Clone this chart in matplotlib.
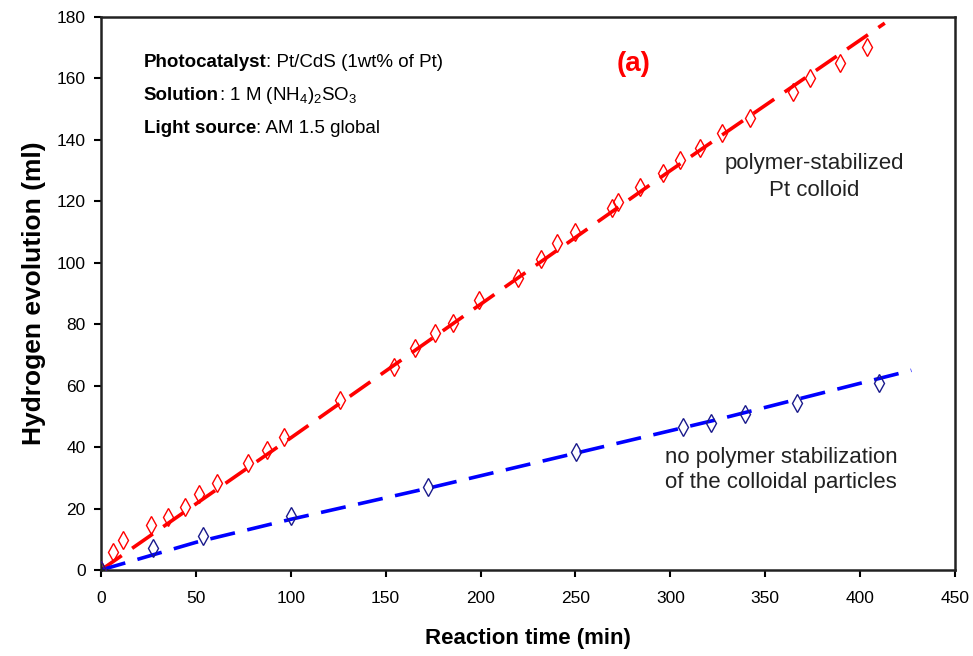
import matplotlib
matplotlib.use('Agg')
import matplotlib.pyplot as plt

plt.rcParams['font.family'] = ['Liberation Sans', 'DejaVu Sans']
plt.rcParams['mathtext.fontset'] = 'custom'
plt.rcParams['mathtext.rm'] = 'Liberation Sans'
plt.rcParams['mathtext.it'] = 'Liberation Sans'

# --- measured hydrogen evolution (ml) vs reaction time (min) ---
stab_time = [0, 6.5, 11.4, 26.2, 35.5, 44.3, 51.8, 61.0, 77.3, 87.3, 96.6,
             125.8, 154.4, 165.4, 176.0, 185.6, 199.3, 219.9, 232.0, 240.4,
             249.7, 269.2, 272.4, 284.0, 296.1, 305.0, 315.6, 327.2, 341.9,
             364.6, 373.6, 389.4, 403.6]
stab_h2 = [0, 6.0, 9.8, 14.6, 17.4, 20.6, 24.6, 28.2, 34.9, 39.1, 43.2,
           55.3, 66.2, 72.2, 77.0, 80.5, 87.9, 95.0, 101.2, 106.4,
           110.0, 117.8, 119.8, 124.7, 129.2, 133.5, 137.4, 142.3, 147.1,
           155.6, 160.2, 165.0, 170.2]

bare_time = [0, 27.6, 53.6, 100.0, 172.5, 250.3, 306.8, 321.3, 339.5, 366.5, 410.0]
bare_h2 = [0, 7.1, 11.1, 17.6, 27.1, 38.4, 46.4, 47.9, 50.8, 54.5, 61.0]

# trend lines drawn through each series
stab_fit_time = [0, 100, 200, 300, 413]
stab_fit_h2 = [0, 43.0, 86.5, 130.0, 178.0]
bare_fit_time = [0, 50, 100, 175, 250, 325, 427]
bare_fit_h2 = [0, 9.0, 16.5, 27.0, 38.0, 49.0, 65.0]

fig = plt.figure(figsize=(9.73, 6.56), dpi=100)
ax = fig.add_axes([0.1038, 0.1311, 0.8777, 0.8430])

dash = (0, (7, 3.5))
ax.plot(stab_fit_time, stab_fit_h2, color='#ff0000', lw=2.6, linestyle=dash, zorder=2)
ax.plot(bare_fit_time, bare_fit_h2, color='#0000ff', lw=2.6, linestyle=dash, zorder=2)
ax.plot(stab_time, stab_h2, linestyle='none', marker='d', ms=9, mfc='none',
        mec='#ff0000', mew=1.0, zorder=3)
ax.plot(bare_time, bare_h2, linestyle='none', marker='d', ms=9, mfc='none',
        mec='#1a1a8c', mew=1.0, zorder=3)

ax.set_xlim(0, 450)
ax.set_ylim(0, 180)
ax.set_xticks(range(0, 451, 50))
ax.set_yticks(range(0, 181, 20))
ax.tick_params(direction='out', length=5, width=1.5, labelsize=12.5)
ax.tick_params(axis='x', pad=10)
ax.tick_params(axis='y', pad=6)
for s in ax.spines.values():
    s.set_linewidth(1.8)
    s.set_color('#222222')

ax.set_xlabel('Reaction time (min)', fontsize=16, fontweight='bold', labelpad=16)
ax.set_ylabel('Hydrogen evolution (ml)', fontsize=19, fontweight='bold', labelpad=8)

# conditions block: bold key followed by normal text
conds = [('Photocatalyst', ': Pt/CdS (1wt% of Pt)'),
         ('Solution', ': 1 M (NH$_4$)$_2$SO$_3$'),
         ('Light source', ': AM 1.5 global')]
for i, (key, val) in enumerate(conds):
    t = ax.text(0.05, 0.918 - i * 0.060, key, transform=ax.transAxes,
                fontsize=13.5, fontweight='bold', va='center', ha='left')
    ax.annotate(val, xy=(1, 0.5), xycoords=t, va='center', ha='left', fontsize=13.5)

ax.text(0.624, 0.915, '(a)', transform=ax.transAxes, color='#ff0000',
        fontsize=20, fontweight='bold', ha='center', va='center')

ax.text(376, 128, 'polymer-stabilized\nPt colloid', fontsize=16, ha='center',
        va='center', linespacing=1.35, color='#222222')
ax.text(297, 32.7, 'no polymer stabilization\nof the colloidal particles', fontsize=16,
        ha='left', va='center', linespacing=1.25, color='#222222')

fig.savefig('out.png', dpi=100)
